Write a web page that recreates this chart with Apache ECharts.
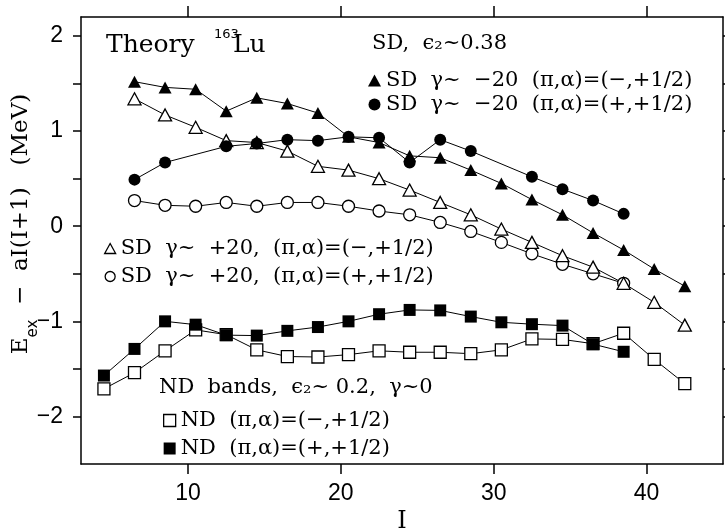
<!DOCTYPE html>
<html>
<head>
<meta charset="utf-8">
<script src="https://cdn.jsdelivr.net/npm/echarts@6/dist/echarts.min.js"></script>
<style>
  html, body { margin: 0; padding: 0; background: #fff; }
  #chart { width: 725px; height: 529px; }
</style>
</head>
<body>
<div id="chart"></div>
<script>
// Excitation energy minus rigid-rotor reference, E_ex - aI(I+1) (MeV), vs spin I, 163Lu theory

// Superdeformed bands, gamma ~ -20
const spinSdA = [6.5, 8.5, 10.5, 12.5, 14.5, 16.5, 18.5, 20.5, 22.5, 24.5, 26.5, 28.5, 30.5, 32.5, 34.5, 36.5, 38.5, 40.5, 42.5];
const sdNegGammaMinus = [1.52, 1.46, 1.44, 1.21, 1.35, 1.29, 1.19, 0.94, 0.88, 0.74, 0.72, 0.59, 0.45, 0.28, 0.12, -0.07, -0.25, -0.45, -0.63];
const spinSdB = [6.5, 8.5, 12.5, 14.5, 16.5, 18.5, 20.5, 22.5, 24.5, 26.5, 28.5, 32.5, 34.5, 36.5, 38.5];
const sdNegGammaPlus = [0.49, 0.67, 0.84, 0.87, 0.91, 0.90, 0.94, 0.93, 0.67, 0.91, 0.79, 0.52, 0.39, 0.27, 0.13];

// Superdeformed bands, gamma ~ +20
const spinSdC = [6.5, 8.5, 10.5, 12.5, 14.5, 16.5, 18.5, 20.5, 22.5, 24.5, 26.5, 28.5, 30.5, 32.5, 34.5, 36.5, 38.5, 40.5, 42.5];
const sdPosGammaMinus = [1.34, 1.17, 1.04, 0.90, 0.88, 0.79, 0.63, 0.59, 0.50, 0.38, 0.25, 0.12, -0.03, -0.17, -0.31, -0.43, -0.60, -0.80, -1.04];
const spinSdD = [6.5, 8.5, 10.5, 12.5, 14.5, 16.5, 18.5, 20.5, 22.5, 24.5, 26.5, 28.5, 30.5, 32.5, 34.5, 36.5, 38.5];
const sdPosGammaPlus = [0.27, 0.22, 0.21, 0.25, 0.21, 0.25, 0.25, 0.21, 0.16, 0.12, 0.04, -0.055, -0.17, -0.29, -0.40, -0.50, -0.60];

// Normal-deformed bands
const spinNdMinus = [4.5, 6.5, 8.5, 10.5, 12.5, 14.5, 16.5, 18.5, 20.5, 22.5, 24.5, 26.5, 28.5, 30.5, 32.5, 34.5, 36.5, 38.5, 40.5, 42.5];
const ndMinus = [-1.71, -1.54, -1.31, -1.09, -1.14, -1.30, -1.37, -1.375, -1.35, -1.31, -1.325, -1.325, -1.34, -1.30, -1.185, -1.19, -1.235, -1.125, -1.40, -1.655];
const spinNdPlus = [4.5, 6.5, 8.5, 10.5, 12.5, 14.5, 16.5, 18.5, 20.5, 22.5, 24.5, 26.5, 28.5, 30.5, 32.5, 34.5, 36.5, 38.5];
const ndPlus = [-1.57, -1.29, -1.00, -1.035, -1.145, -1.15, -1.10, -1.06, -1.00, -0.925, -0.88, -0.885, -0.95, -1.01, -1.03, -1.045, -1.24, -1.32];

// Axis ticks and labels
const xTicks = [10, 20, 30, 40];
const yTicks = [-2, -1.5, -1, -0.5, 0, 0.5, 1, 1.5, 2];
const yLabels = [-2, -1, 0, 1, 2];

// Band names (legend texts)
const nameSdA = 'SD  γ~  −20  (π,α)=(−,+1/2)';
const nameSdB = 'SD  γ~  −20  (π,α)=(+,+1/2)';
const nameSdC = 'SD  γ~  +20,  (π,α)=(−,+1/2)';
const nameSdD = 'SD  γ~  +20,  (π,α)=(+,+1/2)';
const nameNdA = 'ND  (π,α)=(−,+1/2)';
const nameNdB = 'ND  (π,α)=(+,+1/2)';

const SERIF = "'DejaVu Serif', serif";
const TICKFONT = "'Liberation Sans', Arial, sans-serif";

function pairs(xs, ys) {
  return xs.map((x, i) => [x, ys[i]]);
}

const openStyle = { color: '#fff', borderColor: '#000', borderWidth: 1.3 };
const filledStyle = { color: '#000', borderColor: '#000', borderWidth: 0 };

function band(name, xs, ys, symbol, size, open) {
  return {
    name: name,
    type: 'line',
    data: pairs(xs, ys),
    symbol: symbol,
    symbolSize: size,
    showAllSymbol: true,
    lineStyle: { color: '#000', width: 1 },
    itemStyle: open ? openStyle : filledStyle,
    emphasis: { disabled: true },
    animation: false
  };
}

const axisLineStyle = { onZero: false, lineStyle: { color: '#000', width: 1.5 } };
const tickLine = { color: '#000', width: 1.5 };

const chart = echarts.init(document.getElementById('chart'), null, { renderer: 'canvas' });

chart.setOption({
  backgroundColor: '#fff',
  animation: false,
  grid: { left: 81, right: 2, top: 17, bottom: 65, containLabel: false, outerBoundsMode: 'none' },
  xAxis: [
    {
      type: 'value', min: 3, max: 45, position: 'bottom',
      axisLine: axisLineStyle,
      axisTick: { show: true, inside: false, length: 10, customValues: xTicks, lineStyle: tickLine },
      axisLabel: { customValues: xTicks, fontFamily: TICKFONT, fontSize: 23, color: '#000', margin: 18 },
      splitLine: { show: false },
      name: 'I', nameLocation: 'middle', nameGap: 44,
      nameTextStyle: { fontFamily: SERIF, fontSize: 24, color: '#000' }
    },
    {
      type: 'value', min: 3, max: 45, position: 'top',
      axisLine: axisLineStyle,
      axisTick: { show: true, inside: false, length: 11, customValues: xTicks, lineStyle: tickLine },
      axisLabel: { show: false },
      splitLine: { show: false }
    }
  ],
  yAxis: [
    {
      type: 'value', min: -2.5, max: 2.2, position: 'left',
      axisLine: axisLineStyle,
      axisTick: { show: true, inside: false, length: 8, customValues: yTicks, lineStyle: tickLine },
      axisLabel: {
        customValues: yLabels, fontFamily: TICKFONT, fontSize: 23, color: '#000', margin: 18,
        formatter: v => String(v).replace('-', '−')
      },
      splitLine: { show: false }
    },
    {
      type: 'value', min: -2.5, max: 2.2, position: 'right',
      axisLine: axisLineStyle,
      axisTick: { show: true, inside: false, length: 8, customValues: yTicks, lineStyle: tickLine },
      axisLabel: { show: false },
      splitLine: { show: false }
    }
  ],
  legend: [
    {
      orient: 'vertical', left: 363, top: 65, itemWidth: 13, itemHeight: 12, itemGap: 3,
      selectedMode: false,
      textStyle: { fontFamily: SERIF, fontSize: 21, color: '#000', lineHeight: 21 },
      data: [
        { name: nameSdA, icon: 'triangle', itemStyle: filledStyle },
        { name: nameSdB, icon: 'circle', itemStyle: filledStyle }
      ]
    },
    {
      orient: 'vertical', left: 99, top: 233, itemWidth: 11, itemHeight: 10, itemGap: 7,
      selectedMode: false,
      textStyle: { fontFamily: SERIF, fontSize: 21, color: '#000', lineHeight: 21 },
      data: [
        { name: nameSdC, icon: 'triangle', itemStyle: openStyle },
        { name: nameSdD, icon: 'circle', itemStyle: openStyle }
      ]
    },
    {
      orient: 'vertical', left: 158, top: 405, itemWidth: 12, itemHeight: 12, itemGap: 7,
      selectedMode: false,
      textStyle: { fontFamily: SERIF, fontSize: 21, color: '#000', lineHeight: 21 },
      data: [
        { name: nameNdA, icon: 'rect', itemStyle: openStyle },
        { name: nameNdB, icon: 'rect', itemStyle: filledStyle }
      ]
    }
  ],
  graphic: [
    { type: 'text', left: 106, top: 33, style: { text: 'Theory', font: "25px 'DejaVu Serif', serif", fill: '#000' } },
    { type: 'text', left: 214, top: 28, style: { text: '163', font: "13px 'DejaVu Sans', sans-serif", fill: '#000' } },
    { type: 'text', left: 233, top: 33, style: { text: 'Lu', font: "25px 'DejaVu Serif', serif", fill: '#000' } },
    { type: 'text', left: 372, top: 33, style: { text: 'SD,  ϵ₂~0.38', font: "21px 'DejaVu Serif', serif", fill: '#000' } },
    { type: 'text', left: 159, top: 377, style: { text: 'ND  bands,  ϵ₂~ 0.2,  γ~0', font: "21px 'DejaVu Serif', serif", fill: '#000' } },
    {
      type: 'text', x: 21, y: 224, rotation: Math.PI / 2,
      style: {
        text: '{e|E}{s|ex}{e|  −  aI(I+1)   (MeV)}',
        align: 'center', verticalAlign: 'middle', fill: '#000',
        rich: {
          e: { fontFamily: SERIF, fontSize: 23, lineHeight: 40, verticalAlign: 'middle' },
          s: { fontFamily: "'DejaVu Sans', sans-serif", fontSize: 15, lineHeight: 12, verticalAlign: 'bottom' }
        }
      }
    }
  ],
  series: [
    band(nameNdA, spinNdMinus, ndMinus, 'rect', 12, true),
    band(nameNdB, spinNdPlus, ndPlus, 'rect', 12, false),
    band(nameSdD, spinSdD, sdPosGammaPlus, 'circle', 12, true),
    band(nameSdC, spinSdC, sdPosGammaMinus, 'triangle', [13, 12], true),
    band(nameSdA, spinSdA, sdNegGammaMinus, 'triangle', [13, 12], false),
    band(nameSdB, spinSdB, sdNegGammaPlus, 'circle', 12, false)
  ]
});
</script>
</body>
</html>
